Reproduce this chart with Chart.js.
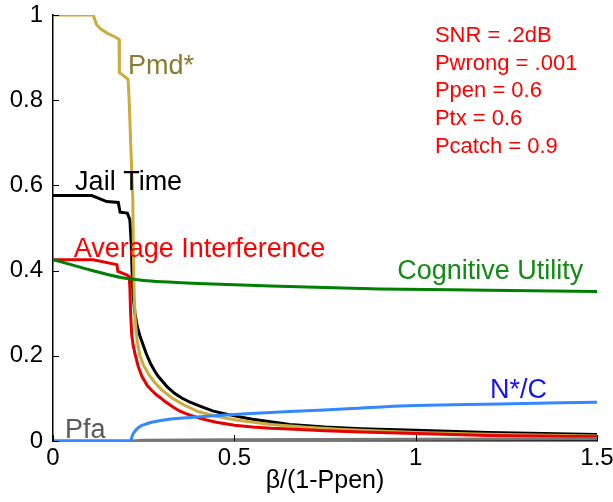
<!DOCTYPE html>
<html>
<head>
<meta charset="utf-8">
<script src="https://cdn.jsdelivr.net/npm/chart.js@4/dist/chart.umd.min.js"></script>
<style>
  body { margin: 0; background: #fff; }
  #wrap { width: 613px; height: 502px; position: relative; }
</style>
</head>
<body>
<div id="wrap"><canvas id="chart"></canvas></div>
<script>
// curves sampled along beta/(1-Ppen)
const pmdX = [0, 0.111, 0.115, 0.12, 0.13, 0.15, 0.17, 0.182, 0.183, 0.207, 0.210, 0.215, 0.220, 0.222, 0.224, 0.227, 0.232, 0.24, 0.25, 0.265, 0.28, 0.30, 0.33, 0.36, 0.40, 0.45, 0.5, 0.6, 0.7, 0.8, 1.0, 1.2, 1.5];
const pmdY = [1, 1, 0.99, 0.978, 0.968, 0.957, 0.949, 0.943, 0.865, 0.849, 0.80, 0.68, 0.57, 0.42, 0.34, 0.28, 0.235, 0.20, 0.177, 0.155, 0.138, 0.12, 0.10, 0.085, 0.069, 0.058, 0.050, 0.039, 0.032, 0.027, 0.020, 0.016, 0.012];

const jailX = [0, 0.107, 0.148, 0.180, 0.185, 0.205, 0.212, 0.216, 0.218, 0.221, 0.226, 0.232, 0.240, 0.25, 0.258, 0.27, 0.28, 0.29, 0.30, 0.315, 0.335, 0.355, 0.378, 0.405, 0.442, 0.5, 0.55, 0.6, 0.653, 0.75, 0.85, 1.0, 1.2, 1.5];
const jailY = [0.576, 0.576, 0.562, 0.560, 0.537, 0.535, 0.519, 0.46, 0.40, 0.34, 0.30, 0.27, 0.246, 0.222, 0.203, 0.18, 0.165, 0.152, 0.142, 0.127, 0.112, 0.101, 0.091, 0.082, 0.070, 0.059, 0.051, 0.045, 0.039, 0.033, 0.029, 0.025, 0.020, 0.0153];

const interfX = [0, 0.111, 0.176, 0.179, 0.203, 0.210, 0.212, 0.214, 0.217, 0.221, 0.226, 0.235, 0.245, 0.26, 0.272, 0.286, 0.30, 0.31, 0.332, 0.35, 0.37, 0.405, 0.45, 0.5, 0.55, 0.6, 0.653, 0.75, 0.85, 1.0, 1.2, 1.5];
const interfY = [0.4255, 0.4255, 0.414, 0.398, 0.39, 0.386, 0.36, 0.30, 0.25, 0.225, 0.205, 0.175, 0.152, 0.13, 0.119, 0.108, 0.099, 0.092, 0.079, 0.070, 0.063, 0.053, 0.044, 0.037, 0.033, 0.030, 0.028, 0.024, 0.021, 0.0176, 0.013, 0.010];

const utilX = [0, 0.05, 0.1, 0.15, 0.2, 0.25, 0.3, 0.4, 0.6, 0.9, 1.2, 1.5];
const utilY = [0.4255, 0.414, 0.402, 0.391, 0.382, 0.377, 0.374, 0.370, 0.364, 0.357, 0.354, 0.351];

const ncX = [0, 0.215, 0.217, 0.22, 0.225, 0.231, 0.24, 0.25, 0.267, 0.29, 0.32, 0.359, 0.405, 0.5, 0.6, 0.7, 0.8, 0.957, 1.1, 1.3, 1.5];
const ncY = [0, 0, 0.008, 0.015, 0.022, 0.028, 0.034, 0.038, 0.043, 0.047, 0.051, 0.054, 0.057, 0.062, 0.067, 0.071, 0.075, 0.082, 0.085, 0.088, 0.091];

const pfaX = [0, 0.215, 0.25, 0.5, 1.0, 1.5];
const pfaY = [0, 0, 0.002, 0.003, 0.004, 0.005];

const xTicks = [0, 0.5, 1, 1.5];
const yTicks = [0, 0.2, 0.4, 0.6, 0.8, 1];

const params = ["SNR = .2dB", "Pwrong = .001", "Ppen = 0.6", "Ptx = 0.6", "Pcatch = 0.9"];

const FONT = "'Liberation Sans', Arial, sans-serif";

const pts = (xs, ys) => xs.map((x, i) => ({ x: x, y: ys[i] }));

// text placed next to each curve, anchored in data units
const curveLabels = [
    { text: "Pmd*", x: 0.207, y: 0.862, color: "#8c7a2e" },
    { text: "Jail Time", x: 0.061, y: 0.590, color: "#000000" },
    { text: "Average Interference", x: 0.057, y: 0.433, color: "#ff0000" },
    { text: "Cognitive Utility", x: 0.949, y: 0.381, color: "#138a13" },
    { text: "N*/C", x: 1.205, y: 0.102, color: "#1414f0" },
    { text: "Pfa", x: 0.033, y: 0.007, color: "#5a5a5a" }
];

const labelPlugin = {
    id: "curveLabels",
    afterDraw(chart) {
        const ctx = chart.ctx;
        const xs = chart.scales.x, ys = chart.scales.y;
        ctx.save();

        // inward tick marks
        ctx.strokeStyle = "#000";
        ctx.lineWidth = 1;
        xTicks.forEach(v => {
            const px = Math.round(xs.getPixelForValue(v)) + 0.5;
            ctx.beginPath();
            ctx.moveTo(px, ys.bottom);
            ctx.lineTo(px, ys.bottom - 6);
            ctx.stroke();
        });
        yTicks.forEach(v => {
            const py = Math.round(ys.getPixelForValue(v)) + 0.5;
            ctx.beginPath();
            ctx.moveTo(xs.left, py);
            ctx.lineTo(xs.left + 6, py);
            ctx.stroke();
        });

        ctx.font = "27px " + FONT;
        ctx.textAlign = "left";
        ctx.textBaseline = "alphabetic";
        curveLabels.forEach(l => {
            ctx.fillStyle = l.color;
            ctx.fillText(l.text, xs.getPixelForValue(l.x), ys.getPixelForValue(l.y));
        });

        // parameter block, top right
        ctx.font = "22px " + FONT;
        ctx.fillStyle = "#ff0000";
        params.forEach((t, i) => {
            ctx.fillText(t, xs.getPixelForValue(1.053), ys.getPixelForValue(0.937) + i * 27.7);
        });
        ctx.restore();
    }
};

// drop the automatic label overflow so the plot box is set by layout padding alone
const noOverflow = s => {
    s.paddingTop = 0;
    s.paddingBottom = 0;
    s.paddingLeft = 0;
    s.paddingRight = 0;
};

document.addEventListener("DOMContentLoaded", () => {
    // stepped curves stay straight between samples, the plain ones get smoothed
    const line = (data, color, smooth) => ({
        data: data,
        borderColor: color,
        borderWidth: 3,
        showLine: true,
        pointRadius: 0,
        fill: false,
        tension: smooth ? 0.4 : 0,
        cubicInterpolationMode: smooth ? "monotone" : "default"
    });

    const ctx = document.getElementById("chart").getContext("2d");
    new Chart(ctx, {
        type: "scatter",
        data: {
            datasets: [
                line(pts(utilX, utilY), "#008000", true),
                line(pts(ncX, ncY), "#3388ff", true),
                line(pts(pfaX, pfaY), "#777777", false),
                line(pts(interfX, interfY), "#e60000", false),
                line(pts(pmdX, pmdY), "#ccac3c", false),
                line(pts(jailX, jailY), "#000000", false)
            ]
        },
        options: {
            responsive: true,
            maintainAspectRatio: false,
            animation: false,
            layout: { padding: { top: 15, right: 16, left: 0, bottom: 0 } },
            plugins: {
                legend: { display: false },
                tooltip: { enabled: false }
            },
            scales: {
                x: {
                    type: "linear",
                    min: 0,
                    max: 1.5,
                    afterFit: s => { s.height = 61; noOverflow(s); },
                    afterBuildTicks: s => { s.ticks = xTicks.map(v => ({ value: v })); },
                    grid: { drawOnChartArea: false, drawTicks: false },
                    border: { color: "#000", width: 1.5 },
                    ticks: {
                        padding: 3,
                        color: "#000",
                        font: { family: FONT, size: 24 },
                        callback: v => String(v)
                    },
                    title: {
                        display: true,
                        text: "β/(1-Ppen)",
                        color: "#000",
                        font: { family: FONT, size: 25 },
                        padding: { top: 0, bottom: 6 }
                    }
                },
                y: {
                    min: 0,
                    max: 1,
                    afterFit: s => { s.width = 53; noOverflow(s); },
                    afterBuildTicks: s => { s.ticks = yTicks.map(v => ({ value: v })); },
                    grid: { drawOnChartArea: false, drawTicks: false },
                    border: { color: "#000", width: 1.5 },
                    ticks: {
                        padding: 10,
                        color: "#000",
                        font: { family: FONT, size: 24 },
                        callback: v => String(v)
                    }
                }
            }
        },
        plugins: [labelPlugin]
    });
});
</script>
</body>
</html>
